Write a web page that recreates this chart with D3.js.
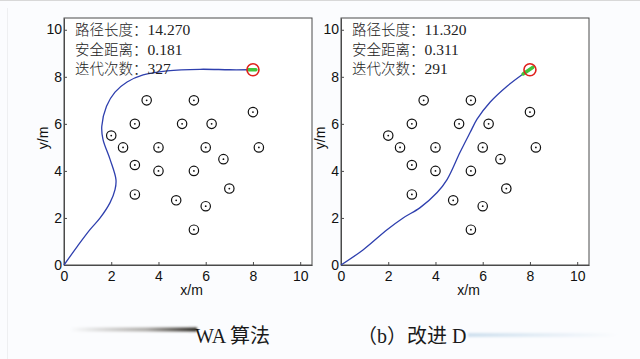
<!DOCTYPE html>
<html><head><meta charset="utf-8">
<script src="https://cdn.jsdelivr.net/npm/d3@7"></script>
<style>
html,body{margin:0;padding:0;background:#fbfcfe;}
svg{display:block;}
</style></head>
<body>
<svg id="c" width="640" height="359"></svg>
<script>
// ---- data ----
const xTicks = [0, 2, 4, 6, 8, 10];
const yTicks = [0, 2, 4, 6, 8, 10];
const obstaclesX = [3.5, 5.5, 8.0, 3.0, 5.0, 6.25, 2.0, 2.5, 4.0, 6.0, 8.25, 6.75, 3.0, 4.0, 5.5, 3.0, 4.75, 6.0, 7.0, 5.5];
const obstaclesY = [7.0, 7.0, 6.5, 6.0, 6.0, 6.0, 5.5, 5.0, 5.0, 5.0, 5.0, 4.5, 4.25, 4.0, 4.0, 3.0, 2.75, 2.5, 3.25, 1.5];
const goal = [8.0, 8.3];
const pathAX = [0, 0.55, 1.1, 1.53, 1.95, 2.16, 2.2, 1.95, 1.65, 1.6, 1.8, 2.16, 2.67, 3.35, 4.36, 5.76, 7.0, 7.8];
const pathAY = [0, 0.77, 1.5, 2.0, 2.65, 3.2, 3.63, 4.49, 5.34, 5.9, 6.75, 7.35, 7.78, 8.08, 8.25, 8.32, 8.3, 8.3];
const pathBX = [0, 0.93, 1.95, 2.63, 3.35, 4.07, 4.49, 5.04, 5.47, 5.76, 6.31, 7.03, 7.71];
const pathBY = [0, 0.64, 1.5, 2.0, 2.44, 3.08, 3.63, 4.79, 5.64, 6.2, 6.92, 7.6, 8.12];
const statLabels = ["路径长度：", "安全距离：", "迭代次数："];
const statsA = ["14.270", "0.181", "327"];
const statsB = ["11.320", "0.311", "291"];
const captionA = "WA 算法";
const captionB = "（b）改进 D";

const svg = d3.select("#c");
svg.append("rect").attr("x",0).attr("y",0).attr("width",640).attr("height",359).attr("fill","#fbfcfe");
svg.append("line").attr("x1",0).attr("x2",640).attr("y1",0.5).attr("y2",0.5).attr("stroke","#d8d8d8");
svg.append("line").attr("x1",7.5).attr("x2",7.5).attr("y1",8).attr("y2",359).attr("stroke","#eeeff1");

const defs = svg.append("defs");
const gA = defs.append("linearGradient").attr("id","gA").attr("x1","0").attr("x2","1");
gA.append("stop").attr("offset","0").attr("stop-color","#fbfcfe");
gA.append("stop").attr("offset","0.6").attr("stop-color","#b0aeab");
gA.append("stop").attr("offset","1").attr("stop-color","#2a2620");
const gB = defs.append("linearGradient").attr("id","gB").attr("x1","0").attr("x2","1");
gB.append("stop").attr("offset","0").attr("stop-color","#cfe0ee");
gB.append("stop").attr("offset","1").attr("stop-color","#fbfcfe");
const blur = defs.append("filter").attr("id","bl").attr("x","-10%").attr("y","-100%").attr("width","120%").attr("height","300%");
blur.append("feGaussianBlur").attr("stdDeviation","1.2");

function panel(ox, pX, pY, stats, goalDir) {
  const x = d3.scaleLinear().domain([0, 10.5]).range([ox, ox + 248]);
  const y = d3.scaleLinear().domain([0, 10.5]).range([265, 18]);
  const g = svg.append("g");
  g.append("rect").attr("x", x(0)).attr("y", y(10.5)).attr("width", x(10.5)-x(0)).attr("height", y(0)-y(10.5))
    .attr("fill", "#ffffff").attr("stroke", "#4a4a4a").attr("stroke-width", 1);
  const ax = g.append("g").attr("transform", `translate(0,${y(0)})`)
    .call(d3.axisBottom(x).tickValues(xTicks).tickSizeInner(-3).tickSizeOuter(0).tickPadding(7));
  const ay = g.append("g").attr("transform", `translate(${x(0)},0)`)
    .call(d3.axisLeft(y).tickValues(yTicks).tickSizeInner(-3).tickSizeOuter(0).tickPadding(2));
  [ax, ay].forEach(a => {
    a.select(".domain").attr("stroke", "#4a4a4a");
    a.selectAll(".tick line").attr("stroke", "#4a4a4a");
    a.selectAll("text").attr("font-family", "Liberation Sans, Arial, sans-serif").attr("font-size", 14).attr("fill", "#111");
  });
  ay.selectAll("text").attr("dy", "0.3em");
  ax.selectAll("text").attr("dy", "0.62em");
  g.append("text").attr("x", x(5.4)).attr("y", 295).attr("text-anchor", "middle")
    .attr("font-family", "Liberation Sans, Arial, sans-serif").attr("font-size", 14).attr("fill", "#111").text("x/m");
  g.append("text").attr("transform", `translate(${x(0)-16},${y(5.4)}) rotate(-90)`).attr("text-anchor", "middle")
    .attr("font-family", "Liberation Sans, Arial, sans-serif").attr("font-size", 14).attr("fill", "#111").text("y/m");

  const obs = g.append("g");
  obstaclesX.forEach((ox2, i) => {
    obs.append("circle").attr("cx", x(ox2)).attr("cy", y(obstaclesY[i])).attr("r", 4.7)
      .attr("fill", "none").attr("stroke", "#111").attr("stroke-width", 1.2);
    obs.append("circle").attr("cx", x(ox2)).attr("cy", y(obstaclesY[i])).attr("r", 0.9).attr("fill", "#111");
  });

  const pts = pX.map((v, i) => [v, pY[i]]);
  const line = d3.line().x(d => x(d[0])).y(d => y(d[1])).curve(d3.curveCatmullRom.alpha(0.5));
  g.append("path").attr("d", line(pts)).attr("fill", "none").attr("stroke", "#2e3fae").attr("stroke-width", 1.3);

  const last = pts[pts.length - 1];
  g.append("line").attr("x1", x(last[0])).attr("y1", y(last[1])).attr("x2", x(goal[0]) + goalDir[0]).attr("y2", y(goal[1]) + goalDir[1])
    .attr("stroke", "#44c43a").attr("stroke-width", 3.4).attr("stroke-linecap", "round");
  g.append("circle").attr("cx", x(goal[0])).attr("cy", y(goal[1])).attr("r", 6)
    .attr("fill", "none").attr("stroke", "#e0201c").attr("stroke-width", 1.6);

  stats.forEach((s, i) => {
    const t = g.append("text").attr("x", x(0) + 11).attr("y", 35 + i * 19.5)
      .attr("font-size", 14.5).attr("fill", "#222");
    t.append("tspan").attr("font-family", "Noto Sans CJK SC, sans-serif").attr("font-weight", 300).text(statLabels[i]);
    t.append("tspan").attr("font-family", "Liberation Serif, Times New Roman, serif").attr("font-size", 15.5).text(s);
  });
  return {x, y};
}

panel(64, pathAX, pathAY, statsA, [3, 0]);
panel(341, pathBX, pathBY, statsB, [3, -2.5]);

svg.append("rect").attr("x", 70).attr("y", 327.5).attr("width", 127).attr("height", 4).attr("fill", "url(#gA)").attr("filter", "url(#bl)");
svg.append("rect").attr("x", 468).attr("y", 333).attr("width", 150).attr("height", 4).attr("fill", "url(#gB)").attr("filter", "url(#bl)");
const capFont = "Liberation Serif, Noto Sans CJK SC, serif";
svg.append("text").attr("x", 195).attr("y", 343).attr("font-family", capFont).attr("font-size", 20).attr("fill", "#1a1a1a").text(captionA);
svg.append("text").attr("x", 357).attr("y", 343).attr("font-family", capFont).attr("font-size", 20).attr("fill", "#1a1a1a").text(captionB);
</script>
</body></html>
